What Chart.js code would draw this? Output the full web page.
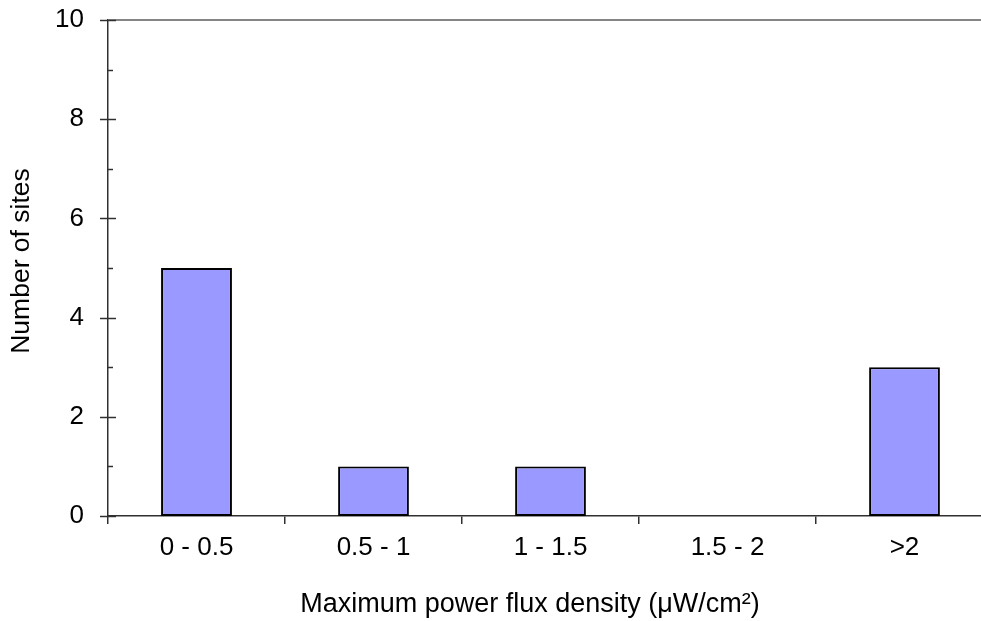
<!DOCTYPE html>
<html>
<head>
<meta charset="utf-8">
<script src="https://cdn.jsdelivr.net/npm/chart.js@4/dist/chart.umd.min.js"></script>
<style>
  html, body { margin: 0; padding: 0; background: #fff; overflow: hidden; }
  #wrap { width: 1060px; height: 621px; }
</style>
</head>
<body>
<div id="wrap"><canvas id="c" width="1060" height="621" style="width:1060px;height:621px"></canvas></div>
<script>
const categories = ['0 - 0.5', '0.5 - 1', '1 - 1.5', '1.5 - 2', '>2'];
const siteCounts = [5, 1, 1, 0, 3];
const yTickValues = [0, 2, 4, 6, 8, 10];
const yMinorValues = [1, 3, 5, 7, 9];
const xTitle = 'Maximum power flux density (\u03BCW/cm\u00B2)';
const yTitle = 'Number of sites';

const FONT = "'Liberation Sans', Arial, sans-serif";
const AXIS_COLOR = '#303030';

const axisDecorPlugin = {
  id: 'axisDecor',
  afterDraw(chart) {
    const ctx = chart.ctx;
    const y = chart.scales.y;
    const area = chart.chartArea;
    ctx.save();
    // top frame line
    const yTop = y.getPixelForValue(10);
    ctx.strokeStyle = '#858585';
    ctx.lineWidth = 2;
    ctx.beginPath();
    ctx.moveTo(area.left, yTop);
    ctx.lineTo(area.right, yTop);
    ctx.stroke();
    // major y ticks crossing the axis
    ctx.strokeStyle = AXIS_COLOR;
    ctx.lineWidth = 1.5;
    yTickValues.forEach(v => {
      const p = Math.round(y.getPixelForValue(v)) + 0.5;
      ctx.beginPath();
      ctx.moveTo(area.left - 8, p);
      ctx.lineTo(area.left + 8, p);
      ctx.stroke();
    });
    // minor y ticks inside
    yMinorValues.forEach(v => {
      const p = Math.round(y.getPixelForValue(v)) + 0.5;
      ctx.beginPath();
      ctx.moveTo(area.left, p);
      ctx.lineTo(area.left + 5, p);
      ctx.stroke();
    });
    // axis titles
    ctx.fillStyle = '#000';
    ctx.font = '27px ' + FONT;
    ctx.textAlign = 'center';
    ctx.textBaseline = 'alphabetic';
    ctx.fillText(xTitle, chart.width / 2, area.bottom + 96);
    ctx.font = '26.5px ' + FONT;
    ctx.textBaseline = 'middle';
    ctx.translate(area.left - 86, (area.top + area.bottom) / 2 - 7);
    ctx.rotate(-Math.PI / 2);
    ctx.fillText(yTitle, 0, 0);
    ctx.restore();
  }
};

new Chart(document.getElementById('c'), {
  type: 'bar',
  data: {
    labels: categories,
    datasets: [{
      data: siteCounts,
      backgroundColor: '#9999FF',
      borderColor: '#000000',
      borderWidth: 2,
      borderSkipped: false,
      barPercentage: 0.4,
      categoryPercentage: 1.0
    }]
  },
  options: {
    responsive: false,
    animation: false,
    devicePixelRatio: 1,
    layout: { padding: { top: 20, right: 67, left: 0, bottom: 0 } },
    plugins: {
      legend: { display: false },
      tooltip: { enabled: false },
      title: { display: false }
    },
    scales: {
      x: {
        type: 'category',
        offset: true,
        grid: {
          display: true,
          offset: true,
          drawOnChartArea: false,
          drawTicks: true,
          tickLength: 8,
          color: AXIS_COLOR,
          lineWidth: 1.5
        },
        border: { display: true, color: AXIS_COLOR, width: 1.5 },
        ticks: {
          color: '#000',
          font: { family: FONT, size: 26 },
          padding: 8,
          maxRotation: 0,
          autoSkip: false
        },
        afterFit(scale) {
          scale.height = 105;
          scale.paddingLeft = 0;
          scale.paddingRight = 0;
        }
      },
      y: {
        min: 0,
        max: 10,
        grid: { display: false, drawTicks: false },
        border: { display: true, color: AXIS_COLOR, width: 1.5 },
        ticks: {
          stepSize: 2,
          color: '#000',
          font: { family: FONT, size: 26 },
          padding: 24
        },
        title: { display: false },
        afterFit(scale) {
          scale.width = 108;
          scale.paddingTop = 0;
          scale.paddingBottom = 0;
        }
      }
    }
  },
  plugins: [axisDecorPlugin]
});
</script>
</body>
</html>
